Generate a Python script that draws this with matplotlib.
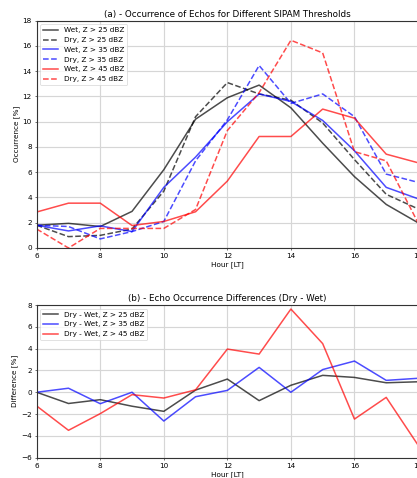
import numpy as np
import matplotlib
matplotlib.use("Agg")
from matplotlib import pyplot as plt

# Data
###########################################################################
hours = [6, 7, 8, 9, 10, 11, 12, 13, 14, 15, 16, 17, 18]

wet_25 = [1.8, 1.95, 1.7, 2.9, 6.2, 10.2, 11.9, 12.9, 11.1, 8.3, 5.65, 3.45, 2.0]
dry_25 = [1.8, 0.9, 1.0, 1.5, 4.5, 10.4, 13.1, 12.2, 11.7, 9.9, 7.0, 4.25, 3.1]
wet_35 = [1.8, 1.35, 1.75, 1.3, 4.8, 7.2, 10.0, 12.2, 11.6, 10.1, 7.7, 4.8, 3.9]
dry_35 = [1.8, 1.7, 0.72, 1.3, 2.1, 6.9, 10.15, 14.45, 11.45, 12.2, 10.4, 5.85, 5.2]
wet_45 = [2.85, 3.55, 3.55, 1.78, 2.1, 2.87, 5.3, 8.83, 8.83, 11.0, 10.28, 7.43, 6.75]
dry_45 = [1.5, 0.0, 1.55, 1.55, 1.55, 3.05, 9.3, 12.3, 16.45, 15.45, 7.63, 6.9, 2.0]

diff_25 = [0.0, -1.03, -0.68, -1.28, -1.75, 0.2, 1.21, -0.77, 0.64, 1.55, 1.36, 0.87, 0.96]
diff_35 = [0.0, 0.37, -1.05, 0.0, -2.64, -0.41, 0.17, 2.28, 0.0, 2.08, 2.86, 1.09, 1.28]
diff_45 = [-1.26, -3.49, -1.96, -0.22, -0.53, 0.22, 3.96, 3.5, 7.63, 4.46, -2.46, -0.47, -4.84]

hour_ticks = [6, 8, 10, 12, 14, 16, 18]

# Plot Setup
###########################################################################
params = {'font.size'      : 10.5,
          'axes.grid'      : True,
          'grid.color'     : '#d6d6d6',
          'grid.linewidth' : 1.7,
          'lines.linewidth': 2.2,
          'axes.linewidth' : 1.6,
          'axes.edgecolor' : '#333333',
}
plt.rcParams.update(params)

fig = plt.figure(figsize=(8.34, 9.56), dpi=50)
ax1 = fig.add_axes([0.088, 0.4812, 0.9144, 0.4755])
ax2 = fig.add_axes([0.088, 0.0425, 0.9144, 0.3194])

alpha = 0.7

# (a) occurrence
ax1.plot(hours, wet_25, color='black', ls='-', alpha=alpha, label='Wet, Z > 25 dBZ')
ax1.plot(hours, dry_25, color='black', ls='--', alpha=alpha, label='Dry, Z > 25 dBZ')
ax1.plot(hours, wet_35, color='blue', ls='-', alpha=alpha, label='Wet, Z > 35 dBZ')
ax1.plot(hours, dry_35, color='blue', ls='--', alpha=alpha, label='Dry, Z > 35 dBZ')
ax1.plot(hours, wet_45, color='red', ls='-', alpha=alpha, label='Wet, Z > 45 dBZ')
ax1.plot(hours, dry_45, color='red', ls='--', alpha=alpha, label='Dry, Z > 45 dBZ')
ax1.set_xlim(6, 18)
ax1.set_ylim(0, 18)
ax1.set_xticks(hour_ticks)
ax1.set_xlabel('Hour [LT]')
ax1.set_ylabel('Occurrence [%]')
ax1.set_title('(a) - Occurrence of Echos for Different SIPAM Thresholds')
ax1.legend(loc='upper left')

# (b) differences
ax2.plot(hours, diff_25, color='black', alpha=alpha, label='Dry - Wet, Z > 25 dBZ')
ax2.plot(hours, diff_35, color='blue', alpha=alpha, label='Dry - Wet, Z > 35 dBZ')
ax2.plot(hours, diff_45, color='red', alpha=alpha, label='Dry - Wet, Z > 45 dBZ')
ax2.set_xlim(6, 18)
ax2.set_ylim(-6, 8)
ax2.set_xticks(hour_ticks)
ax2.set_xlabel('Hour [LT]')
ax2.set_ylabel('Difference [%]')
ax2.set_title('(b) - Echo Occurrence Differences (Dry - Wet)')
ax2.legend(loc='upper left')

plt.savefig('out.png', dpi=50)
